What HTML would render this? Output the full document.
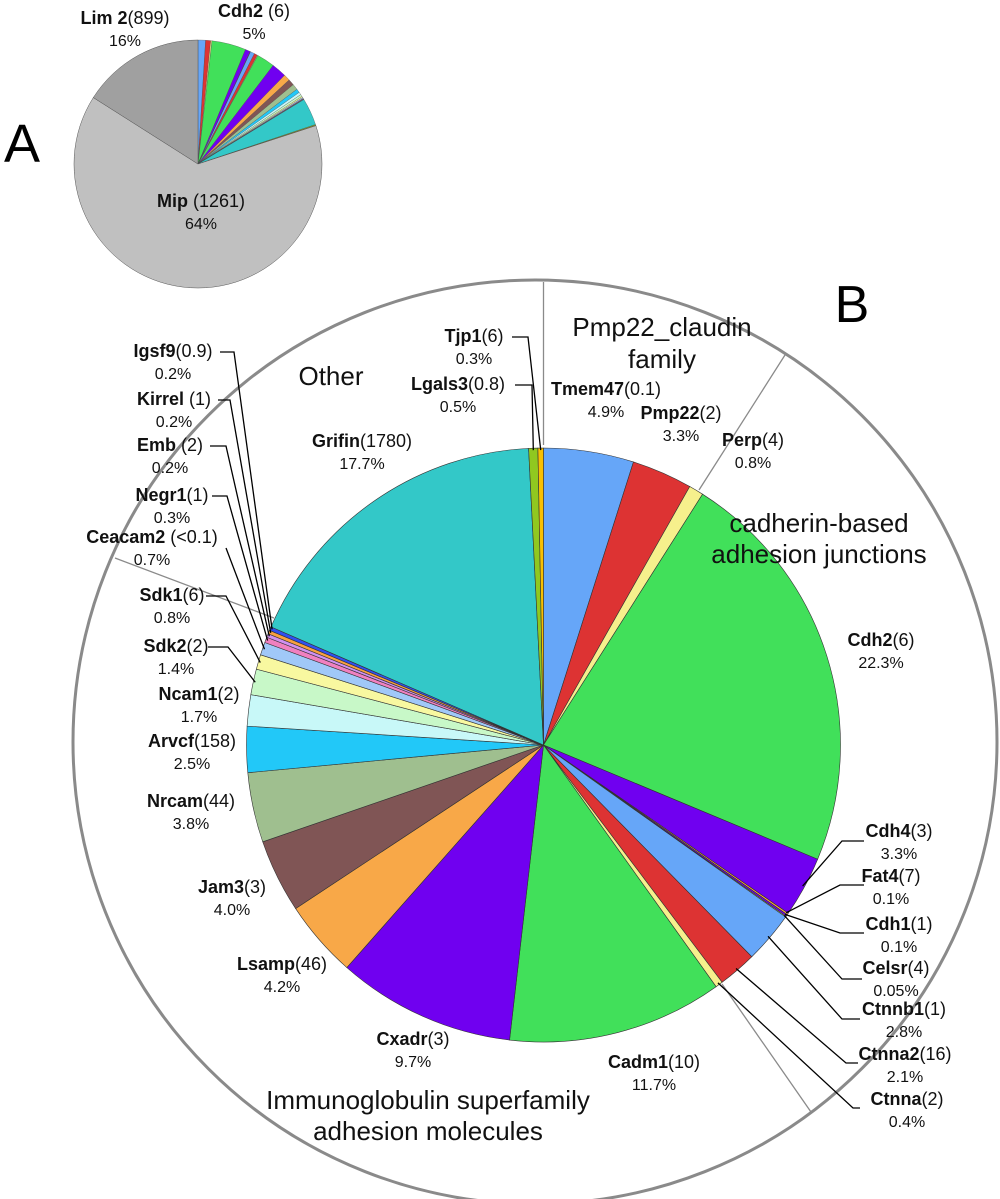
<!DOCTYPE html>
<html><head><meta charset="utf-8"><style>
html,body{margin:0;padding:0;background:#fff;}
svg{display:block;font-family:"Liberation Sans",sans-serif;}
</style></head><body>
<svg id="chart" width="1000" height="1199" viewBox="0 0 1000 1199">
<circle cx="535" cy="742" r="462" fill="none" stroke="#8a8a8a" stroke-width="3"/>
<g id="dividers" stroke="#8a8a8a" stroke-width="1.3">
<line x1="543.5" y1="445" x2="543.5" y2="282"/>
<line x1="699" y1="490" x2="785" y2="355"/>
<line x1="274" y1="618" x2="115" y2="558"/>
<line x1="722" y1="984" x2="811" y2="1112"/>
</g>
<g id="pieB"></g>
<g id="pieA"></g>
<g id="leaders" fill="none" stroke="#000" stroke-width="1.3"></g>
<g id="labels" font-size="18" text-anchor="middle" fill="#111"></g>
<text x="22" y="162" font-size="54" text-anchor="middle">A</text>
<text x="852" y="322" font-size="52" text-anchor="middle">B</text>
<g font-size="26" text-anchor="middle" fill="#111">
<text x="331" y="385">Other</text>
<text x="662" y="336">Pmp22_claudin</text>
<text x="662" y="368">family</text>
<text x="819" y="532">cadherin-based</text>
<text x="819" y="563">adhesion junctions</text>
<text x="428" y="1109">Immunoglobulin superfamily</text>
<text x="428" y="1140">adhesion molecules</text>
</g>
</svg>
<script>
const names=["Tmem47","Pmp22","Perp","Cdh2","Cdh4","Fat4","Cdh1","Celsr","Ctnnb1","Ctnna2","Ctnna","Cadm1","Cxadr","Lsamp","Jam3","Nrcam","Arvcf","Ncam1","Sdk2","Sdk1","Ceacam2","Negr1","Emb","Kirrel","Igsf9","Grifin","Lgals3","Tjp1"];
const counts=["(0.1)","(2)","(4)","(6)","(3)","(7)","(1)","(4)","(1)","(16)","(2)","(10)","(3)","(46)","(3)","(44)","(158)","(2)","(2)","(6)"," (<0.1)","(1)"," (2)"," (1)","(0.9)","(1780)","(0.8)","(6)"];
const values=[4.9,3.3,0.8,22.3,3.3,0.1,0.1,0.05,2.8,2.1,0.4,11.7,9.7,4.2,4.0,3.8,2.5,1.7,1.4,0.8,0.7,0.3,0.2,0.2,0.2,17.7,0.5,0.3];
const pctLabels=["4.9%","3.3%","0.8%","22.3%","3.3%","0.1%","0.1%","0.05%","2.8%","2.1%","0.4%","11.7%","9.7%","4.2%","4.0%","3.8%","2.5%","1.7%","1.4%","0.8%","0.7%","0.3%","0.2%","0.2%","0.2%","17.7%","0.5%","0.3%"];
const colors=["#66a6f8","#dd3333","#f6f08c","#41e05a","#7000f0","#f8a040","#7000f0","#f6f08c","#66a6f8","#dd3333","#f6f08c","#41e05a","#7000f0","#f8a848","#805555","#9fbf8f","#22c8f8","#c8f8f8","#c8f8c8","#f8f8a0","#a0c8f8","#f080c0","#d090f0","#f8a040","#3050f0","#33c8c8","#90c820","#f8c000"];
const aNames=["Mip","Lim 2"];
const aCounts=[" (1261)","(899)"];
const aValues=[64,16];
const aColors=["#c0c0c0","#a0a0a0"];
const aRestShare=20;

const NS="http://www.w3.org/2000/svg";
function mk(tag,attrs,parent){const e=document.createElementNS(NS,tag);for(const k in attrs)e.setAttribute(k,attrs[k]);parent.appendChild(e);return e;}
function pt(cx,cy,r,f){const a=f*2*Math.PI;return [cx+r*Math.sin(a),cy-r*Math.cos(a)];}
function wedge(cx,cy,r,f0,f1){const p0=pt(cx,cy,r,f0),p1=pt(cx,cy,r,f1);const large=(f1-f0)>0.5?1:0;
 return `M${cx},${cy}L${p0[0]},${p0[1]}A${r},${r} 0 ${large} 1 ${p1[0]},${p1[1]}Z`;}

const B={cx:543.5,cy:745,r:297};
const total=values.reduce((a,b)=>a+b,0);
const gB=document.getElementById('pieB');
const mids=[];
let acc=0;
values.forEach((v,i)=>{const f0=acc/total,f1=(acc+v)/total;acc+=v;mids.push((f0+f1)/2);
 const p=mk('path',{d:wedge(B.cx,B.cy,B.r,f0,f1),fill:colors[i],stroke:'#333','stroke-width':0.6},gB);
 
 
});

const A={cx:198,cy:164,r:124};
const gA=document.getElementById('pieA');
const aTotal=aRestShare+aValues.reduce((a,b)=>a+b,0);
acc=0;
values.forEach((v,i)=>{const share=v/total*aRestShare;const f0=acc/aTotal,f1=(acc+share)/aTotal;acc+=share;
 const p=mk('path',{d:wedge(A.cx,A.cy,A.r,f0,f1),fill:colors[i],stroke:'#444','stroke-width':0.3},gA);
 
 
});
aValues.forEach((v,i)=>{const f0=acc/aTotal,f1=(acc+v)/aTotal;acc+=v;
 const p=mk('path',{d:wedge(A.cx,A.cy,A.r,f0,f1),fill:aColors[i],stroke:'#555','stroke-width':0.5},gA);
 
 
});

const gL=document.getElementById('labels');
function label(x,y,name,cnt,pct,key){
 const t=mk('text',{x:x,y:y},gL);
 
 
 const b=mk('tspan',{'font-weight':'bold'},t);b.textContent=name;
 const c=mk('tspan',{},t);c.textContent=cnt;
 if(pct){const p=mk('text',{x:x,y:y+22,'font-size':16},gL);p.textContent=pct;
  
  }
}
const labelPos={Tjp1:[474,342],Lgals3:[458,390],Tmem47:[606,395],Pmp22:[681,419],Perp:[753,446],Grifin:[362,447],
Cdh2:[881,646],Cdh4:[899,837],Fat4:[891,882],Cdh1:[899,930],Celsr:[896,974],Ctnnb1:[904,1015],Ctnna2:[905,1060],Ctnna:[907,1105],
Cadm1:[654,1068],Cxadr:[413,1045],Lsamp:[282,970],Jam3:[232,893],Nrcam:[191,807],Arvcf:[192,747],Ncam1:[199,700],Sdk2:[176,652],
Sdk1:[172,601],Ceacam2:[152,543],Negr1:[172,501],Emb:[170,451],Kirrel:[174,405],Igsf9:[173,357]};
names.forEach((n,i)=>{const p=labelPos[n];label(p[0],p[1],n,counts[i],pctLabels[i],n.toLowerCase());});
label(125,24,aNames[1],aCounts[1],"16%","a-lim2");
label(254,17,"Cdh2"," (6)","5%","a-cdh2");
label(201,207,aNames[0],aCounts[0],"64%","a-mip");

const leaders=[["Tjp1",512,337,528],["Lgals3",515,385,532],
["Igsf9",220,352,234],["Kirrel",218,400,230],["Emb",210,446,226],["Negr1",212,496,227],["Ceacam2",226,548,226],["Sdk1",206,596,226],["Sdk2",208,647,228],
["Cdh4",864,841,842],["Fat4",864,885,840],["Cdh1",864,933,840],["Celsr",862,979,842],["Ctnnb1",860,1019,842],["Ctnna2",858,1063,846],["Ctnna",860,1108,853]];
const gLd=document.getElementById('leaders');
leaders.forEach(l=>{const i=names.indexOf(l[0]);const e=pt(B.cx,B.cy,B.r-2,mids[i]);
 const p=mk('polyline',{points:`${l[1]},${l[2]} ${l[3]},${l[2]} ${e[0]},${e[1]}`},gLd);
 
 
});
</script>
</body></html>
